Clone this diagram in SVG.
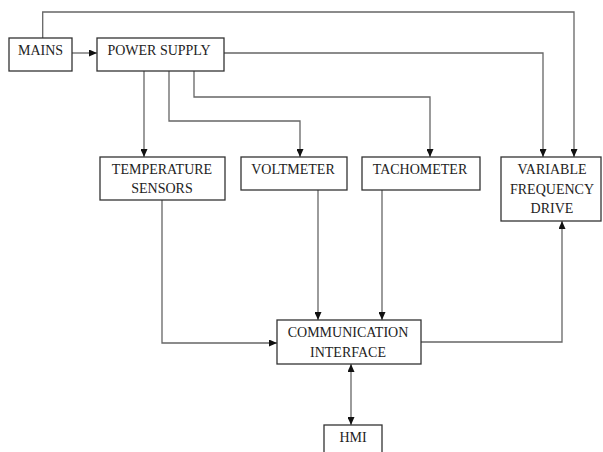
<svg xmlns="http://www.w3.org/2000/svg" width="603" height="452" viewBox="0 0 603 452">
<style>
.box{fill:#fff;stroke:#333;stroke-width:1.3}
.t{font-family:"Liberation Serif","Times New Roman",serif;font-size:14px;fill:#222;text-anchor:middle}
.c{fill:none;stroke:#666;stroke-width:1.3}
</style>
<defs>
<marker id="ah" markerUnits="userSpaceOnUse" markerWidth="8" markerHeight="7" refX="8" refY="3.5" orient="auto-start-reverse">
<path d="M0,0 L8,3.5 L0,7 z" fill="#111"/>
</marker>
</defs>
<rect width="603" height="452" fill="#fff"/>
<g id="connectors">
<path class="c" d="M42.7,38 V12 H574 V157" marker-end="url(#ah)"/>
<path class="c" d="M72,53 H97" marker-end="url(#ah)"/>
<path class="c" d="M224,53 H543 V157" marker-end="url(#ah)"/>
<path class="c" d="M144,71 V157" marker-end="url(#ah)"/>
<path class="c" d="M169,71 V121 H300 V157" marker-end="url(#ah)"/>
<path class="c" d="M194,71 V97 H430 V157" marker-end="url(#ah)"/>
<path class="c" d="M162,200 V343 H277" marker-end="url(#ah)"/>
<path class="c" d="M318,190 V320" marker-end="url(#ah)"/>
<path class="c" d="M382,190 V320" marker-end="url(#ah)"/>
<path class="c" d="M421,342 H562 V221" marker-end="url(#ah)"/>
<path class="c" d="M351,364 V425" marker-start="url(#ah)" marker-end="url(#ah)"/>
</g>
<g id="mains"><rect class="box" x="9" y="38" width="63" height="33"/><text class="t" x="40.5" y="55">MAINS</text></g>
<g id="power-supply"><rect class="box" x="97" y="38" width="127" height="33"/><text class="t" x="159" y="55">POWER SUPPLY</text></g>
<g id="temperature-sensors"><rect class="box" x="100" y="157" width="125" height="43"/><text class="t" x="162" y="174">TEMPERATURE</text><text class="t" x="162" y="193">SENSORS</text></g>
<g id="voltmeter"><rect class="box" x="241" y="157" width="106" height="33"/><text class="t" x="293" y="174">VOLTMETER</text></g>
<g id="tachometer"><rect class="box" x="362" y="157" width="118" height="33"/><text class="t" x="420" y="174">TACHOMETER</text></g>
<g id="vfd"><rect class="box" x="501" y="157" width="100" height="64"/><text class="t" x="552" y="174">VARIABLE</text><text class="t" x="552" y="194">FREQUENCY</text><text class="t" x="552" y="213">DRIVE</text></g>
<g id="communication-interface"><rect class="box" x="277" y="320" width="144" height="44"/><text class="t" x="348" y="337">COMMUNICATION</text><text class="t" x="348" y="357">INTERFACE</text></g>
<g id="hmi"><rect class="box" x="324" y="425" width="58" height="40"/><text class="t" x="353" y="442">HMI</text></g>
</svg>
